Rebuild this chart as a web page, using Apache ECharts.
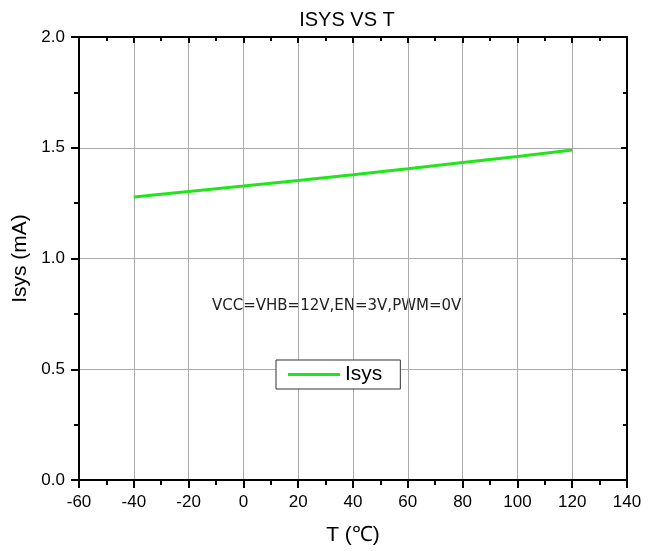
<!DOCTYPE html>
<html>
<head>
<meta charset="utf-8">
<script src="https://cdn.jsdelivr.net/npm/echarts@6/dist/echarts.min.js"></script>
<style>html,body{margin:0;padding:0;background:#fff}#c{width:652px;height:551px}</style>
</head>
<body>
<div id="c"></div>
<script>
const temps = [-40, -20, 0, 20, 40, 60, 80, 100, 120];
const isys = [1.278, 1.303, 1.327, 1.352, 1.378, 1.405, 1.433, 1.461, 1.490];
const xTicks = {min: -60, max: 140, interval: 20};
const yTicks = {min: 0, max: 2, interval: 0.5};
const titleText = 'ISYS VS T';
const condText = 'VCC=VHB=12V,EN=3V,PWM=0V';

const chart = echarts.init(document.getElementById('c'), null, {renderer: 'canvas'});
const axisFont = {fontFamily: 'Arial, "Liberation Sans"', fontSize: 17, color: '#000'};
const frame = {show: true, onZero: false, lineStyle: {color: '#000', width: 2}};
chart.setOption({
  animation: false,
  backgroundColor: '#fff',
  title: {text: titleText, left: 342, top: 5, textAlign: 'center',
    textStyle: {fontFamily: 'Arial, "Liberation Sans"', fontSize: 20, fontWeight: 'normal', color: '#000'}},
  grid: {left: 79, right: 25, top: 37, bottom: 70, containLabel: false},
  legend: {
    data: ['Isys'], left: 276, top: 360, orient: 'horizontal',
    backgroundColor: '#fff', borderColor: '#333', borderWidth: 1,
    padding: [4, 18, 4, 12], icon: 'rect', itemWidth: 52, itemHeight: 3, itemGap: 6,
    textStyle: {fontFamily: 'Arial, "Liberation Sans"', fontSize: 21, color: '#000'}
  },
  graphic: [{type: 'text', left: 212, top: 299,
    style: {text: condText, fontFamily: '"DejaVu Sans"', fontSize: 15, fill: '#222'}}],
  xAxis: [{
    type: 'value', min: xTicks.min, max: xTicks.max, interval: xTicks.interval,
    name: 'T (℃)', nameLocation: 'middle', nameGap: 45,
    nameTextStyle: {fontFamily: 'Arial, "Liberation Sans"', fontSize: 21, color: '#000'},
    axisLine: frame, axisTick: {show: true, inside: false, length: 8, lineStyle: {color: '#000', width: 2}},
    minorTick: {show: true, splitNumber: 2, length: 5, lineStyle: {color: '#000', width: 2}},
    axisLabel: Object.assign({margin: 14}, axisFont),
    splitLine: {show: true, lineStyle: {color: '#aaa', width: 1}}
  }, {
    type: 'value', position: 'top', min: xTicks.min, max: xTicks.max, interval: xTicks.interval,
    axisLine: frame, axisTick: {show: true, inside: true, length: 6, lineStyle: {color: '#000', width: 2}},
    minorTick: {show: true, splitNumber: 2, length: 4, lineStyle: {color: '#000', width: 2}},
    axisLabel: {show: false}, splitLine: {show: false}
  }],
  yAxis: [{
    type: 'value', min: yTicks.min, max: yTicks.max, interval: yTicks.interval,
    name: 'Isys (mA)', nameLocation: 'middle', nameGap: 46,
    nameTextStyle: {fontFamily: 'Arial, "Liberation Sans"', fontSize: 21, color: '#000'},
    axisLine: frame, axisTick: {show: true, inside: false, length: 8, lineStyle: {color: '#000', width: 2}},
    minorTick: {show: true, splitNumber: 2, length: 5, lineStyle: {color: '#000', width: 2}},
    axisLabel: Object.assign({margin: 14, formatter: v => v.toFixed(1)}, axisFont),
    splitLine: {show: true, lineStyle: {color: '#aaa', width: 1}}
  }, {
    type: 'value', position: 'right', min: yTicks.min, max: yTicks.max, interval: yTicks.interval,
    axisLine: frame, axisTick: {show: true, inside: true, length: 6, lineStyle: {color: '#000', width: 2}},
    minorTick: {show: true, splitNumber: 2, length: 4, lineStyle: {color: '#000', width: 2}},
    axisLabel: {show: false}, splitLine: {show: false}
  }],
  series: [{
    name: 'Isys', type: 'line', xAxisIndex: 0, yAxisIndex: 0,
    data: temps.map((t, i) => [t, isys[i]]),
    symbol: 'none', smooth: false,
    lineStyle: {color: '#22e41c', width: 3}, itemStyle: {color: '#22e41c'}
  }]
});
</script>
</body>
</html>
